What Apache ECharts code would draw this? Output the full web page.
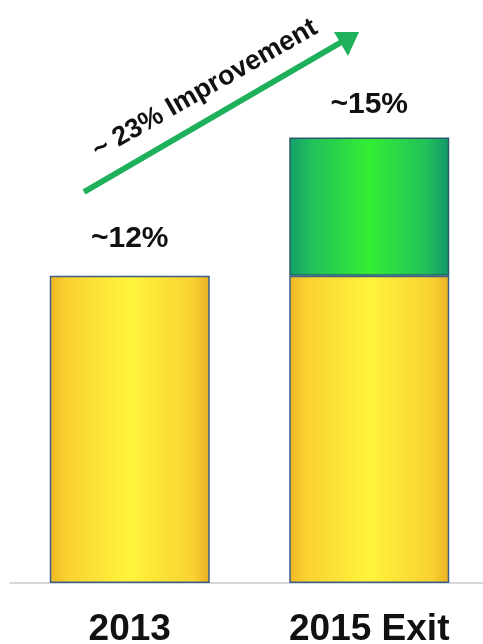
<!DOCTYPE html>
<html>
<head>
<meta charset="utf-8">
<script src="https://cdn.jsdelivr.net/npm/echarts@6/dist/echarts.min.js"></script>
<style>
  html, body { margin: 0; padding: 0; background: #fff; }
  #chart { width: 483px; height: 644px; }
</style>
</head>
<body>
<div id="chart"></div>
<script>
// categories and values
const categories = ['2013', '2015 Exit']
const baseValues = [12, 12]          // yellow part
const upliftValues = [null, 5.4]     // green part, as drawn (not to scale with label)
const topLabels = ['~12%', '~15%']
const arrowText = '~ 23% Improvement'

const chart = echarts.init(document.getElementById('chart'))

const yellow = new echarts.graphic.LinearGradient(0, 0, 1, 0, [
  { offset: 0, color: '#f0b526' },
  { offset: 0.1, color: '#f9d131' },
  { offset: 0.5, color: '#fff43c' },
  { offset: 0.9, color: '#f9d131' },
  { offset: 1, color: '#eaae24' }
])
const green = new echarts.graphic.LinearGradient(0, 0, 1, 0, [
  { offset: 0, color: '#139e6a' },
  { offset: 0.15, color: '#22c25a' },
  { offset: 0.5, color: '#34ee34' },
  { offset: 0.85, color: '#22c25a' },
  { offset: 1, color: '#12986a' }
])

const labelStyle = {
  fontFamily: 'Liberation Sans, Arial, sans-serif',
  fontWeight: 'bold',
  fontSize: 30,
  color: '#111'
}

chart.setOption({
  animation: false,
  grid: { left: 10, right: -6, top: 71, bottom: 61, outerBoundsMode: 'none', containLabel: false },
  xAxis: {
    type: 'category',
    data: categories,
    axisTick: { show: false },
    axisLine: { lineStyle: { color: '#c9c9d2', width: 1.5 } },
    axisLabel: {
      margin: 28,
      fontFamily: 'Liberation Sans, Arial, sans-serif',
      fontWeight: 'bold',
      fontSize: 37,
      color: '#111'
    }
  },
  yAxis: {
    type: 'value',
    min: 0,
    max: 20,
    show: false
  },
  series: [
    {
      type: 'bar',
      stack: 'total',
      data: baseValues,
      barWidth: 160,
      itemStyle: { color: yellow, borderColor: '#3c5f86', borderWidth: 1.5 },
      label: {
        show: true,
        position: 'top',
        distance: 22,
        formatter: p => (p.dataIndex === 0 ? topLabels[0] : ''),
        ...labelStyle
      }
    },
    {
      type: 'bar',
      stack: 'total',
      data: upliftValues,
      barWidth: 160,
      itemStyle: { color: green, borderColor: '#2a5a6a', borderWidth: 1.5 },
      label: {
        show: true,
        position: 'top',
        distance: 18,
        formatter: () => topLabels[1],
        ...labelStyle
      }
    }
  ],
  graphic: [
    {
      type: 'line',
      shape: { x1: 84, y1: 192, x2: 345, y2: 40 },
      style: { stroke: '#1fb05c', lineWidth: 6 }
    },
    {
      type: 'polygon',
      shape: { points: [[359, 32], [334, 32], [348, 56]] },
      style: { fill: '#1fb05c' }
    },
    {
      type: 'text',
      x: 205,
      y: 89,
      rotation: 29.8 * Math.PI / 180,
      style: {
        text: arrowText,
        align: 'center',
        verticalAlign: 'middle',
        fontFamily: 'Liberation Sans, Arial, sans-serif',
        fontWeight: 'bold',
        fontSize: 27,
        fill: '#111'
      }
    }
  ]
})
</script>
</body>
</html>
